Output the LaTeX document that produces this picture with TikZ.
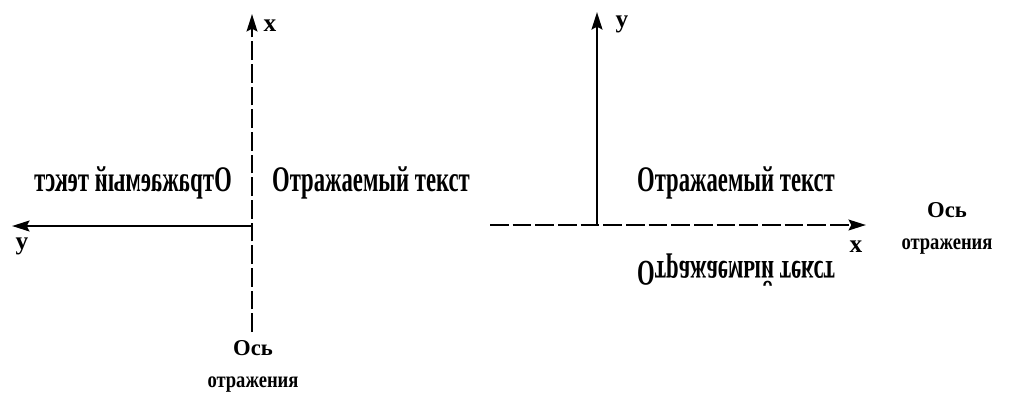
\documentclass[tikz,border=0pt]{standalone}
\usepackage{fontspec}
\setmainfont{Liberation Serif}
\usetikzlibrary{arrows.meta, positioning}
\tikzset{
  axisTip/.style={-{Stealth[length=13pt, width=8pt, inset=2pt]}},
  axisLine/.style={axisTip, line width=2.2pt},
  mirrorAxis/.style={axisTip, line width=2pt, dash pattern=on 14pt off 3pt},
  txtA/.style={font=\fontsize{27}{28}\selectfont\bfseries, inner sep=0pt},
  axLabel/.style={font=\fontsize{19}{20}\selectfont\bfseries, inner sep=0pt},
  capA/.style={font=\fontsize{17}{24}\selectfont\bfseries, align=center, inner sep=0pt},
}
\begin{document}
\begin{tikzpicture}[x=0.75pt, y=-0.75pt]
    \useasboundingbox (0,0) rectangle (1026,394);
    % left: reflection about the x axis (vertical)
    \coordinate (lO) at (252,226);
    \coordinate (lTop) at (252,14);
    \coordinate (lBot) at (252,332);
    \coordinate (lLeft) at (12,226);
    \draw[mirrorAxis] (lBot) -- (lTop);
    \draw[axisLine] (lO) -- (lLeft);
    \node[axLabel] (lx) at (270,26) {x};
    \node[axLabel] (ly) at (22,246) {y};
    \node[txtA] (lSrc) at (371,183) {\scalebox{0.63}[1]{Отражаемый текст}};
    \node[txtA] (lImg) at (133,183) {\scalebox{-0.63}[1]{Отражаемый текст}};
    \node[capA] (lCap) at (253,366) {Ось\\\scalebox{0.82}[1]{отражения}};
    % right: reflection about the x axis (horizontal)
    \coordinate (rO) at (597,225);
    \coordinate (rTop) at (597,12);
    \coordinate (rLeft) at (490,225);
    \coordinate (rRight) at (866,225);
    \draw[axisLine] (rO) -- (rTop);
    \draw[mirrorAxis] (rLeft) -- (rRight);
    \node[axLabel] (ry) at (622,24) {y};
    \node[axLabel] (rx) at (856,247) {x};
    \node[txtA] (rSrc) at (736,183) {\scalebox{0.63}[1]{Отражаемый текст}};
    \node[txtA] (rImg) at (736,270) {\scalebox{0.63}[-1]{Отражаемый текст}};
    \node[capA] (rCap) at (947,228) {Ось\\\scalebox{0.82}[1]{отражения}};
\end{tikzpicture}
\end{document}
